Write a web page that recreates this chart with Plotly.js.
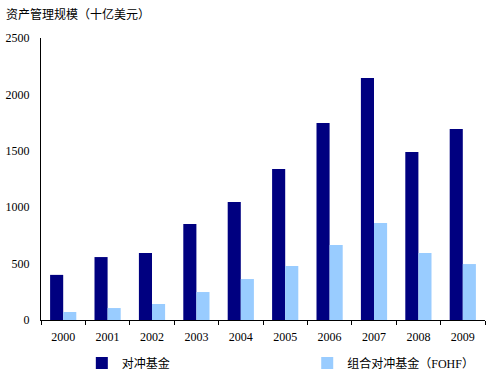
<!DOCTYPE html>
<html>
<head>
<meta charset="utf-8">
<script src="https://cdn.plot.ly/plotly-3.0.1.min.js"></script>
<style>html,body{margin:0;padding:0;background:#fff;}#chart{width:502px;height:385px;}</style>
</head>
<body>
<div id="chart"></div>
<script>
const years = ['2000','2001','2002','2003','2004','2005','2006','2007','2008','2009'];
const hedgeFunds = [400, 558, 594, 851, 1046, 1339, 1746, 2145, 1489, 1693];
const fundOfHedgeFunds = [71, 106, 142, 248, 363, 479, 665, 860, 594, 496];
const seriesNames = ['对冲基金', '组合对冲基金（FOHF）'];
const yTicks = [0, 500, 1000, 1500, 2000, 2500];
const yTitle = '资产管理规模（十亿美元）';

const font = "'Liberation Serif', 'Noto Sans CJK SC', serif";
const traces = [
  {type:'bar', x:years, y:hedgeFunds, name:seriesNames[0], marker:{color:'#000080'}, legend:'legend'},
  {type:'bar', x:years, y:fundOfHedgeFunds, name:seriesNames[1], marker:{color:'#99CCFF'}, legend:'legend2'}
];
const legendBase = {orientation:'h', xref:'container', yref:'container', xanchor:'left',
  y:0.095, yanchor:'top', itemwidth:30, font:{size:12}, bgcolor:'rgba(0,0,0,0)'};
const layout = {
  width:502, height:385,
  margin:{l:41, r:17, t:38, b:65, autoexpand:false},
  paper_bgcolor:'#fff', plot_bgcolor:'#fff',
  font:{family:font, size:12, color:'#000'},
  barmode:'group', bargap:0.41, bargroupgap:0,
  showlegend:true,
  legend:Object.assign({}, legendBase, {x:0.163}),
  legend2:Object.assign({}, legendBase, {x:0.612}),
  xaxis:{type:'category', showline:true, linecolor:'#000', linewidth:1,
         ticks:'outside', tickson:'boundaries', ticklen:4, tickcolor:'#000',
         showgrid:false, zeroline:false, tickfont:{size:12}, ticklabelstandoff:6},
  yaxis:{range:[0,2500], tickvals:yTicks, ticktext:yTicks.map(String),
         showline:true, linecolor:'#000', linewidth:1, ticks:'', showgrid:false,
         zeroline:false, tickfont:{size:12}, ticklabelstandoff:8},
  annotations:[{text:yTitle, xref:'paper', yref:'paper', x:-0.083, y:1.085,
                xanchor:'left', yanchor:'middle', showarrow:false, font:{size:12}}]
};
Plotly.newPlot('chart', traces, layout, {staticPlot:true, displayModeBar:false});
</script>
</body>
</html>
